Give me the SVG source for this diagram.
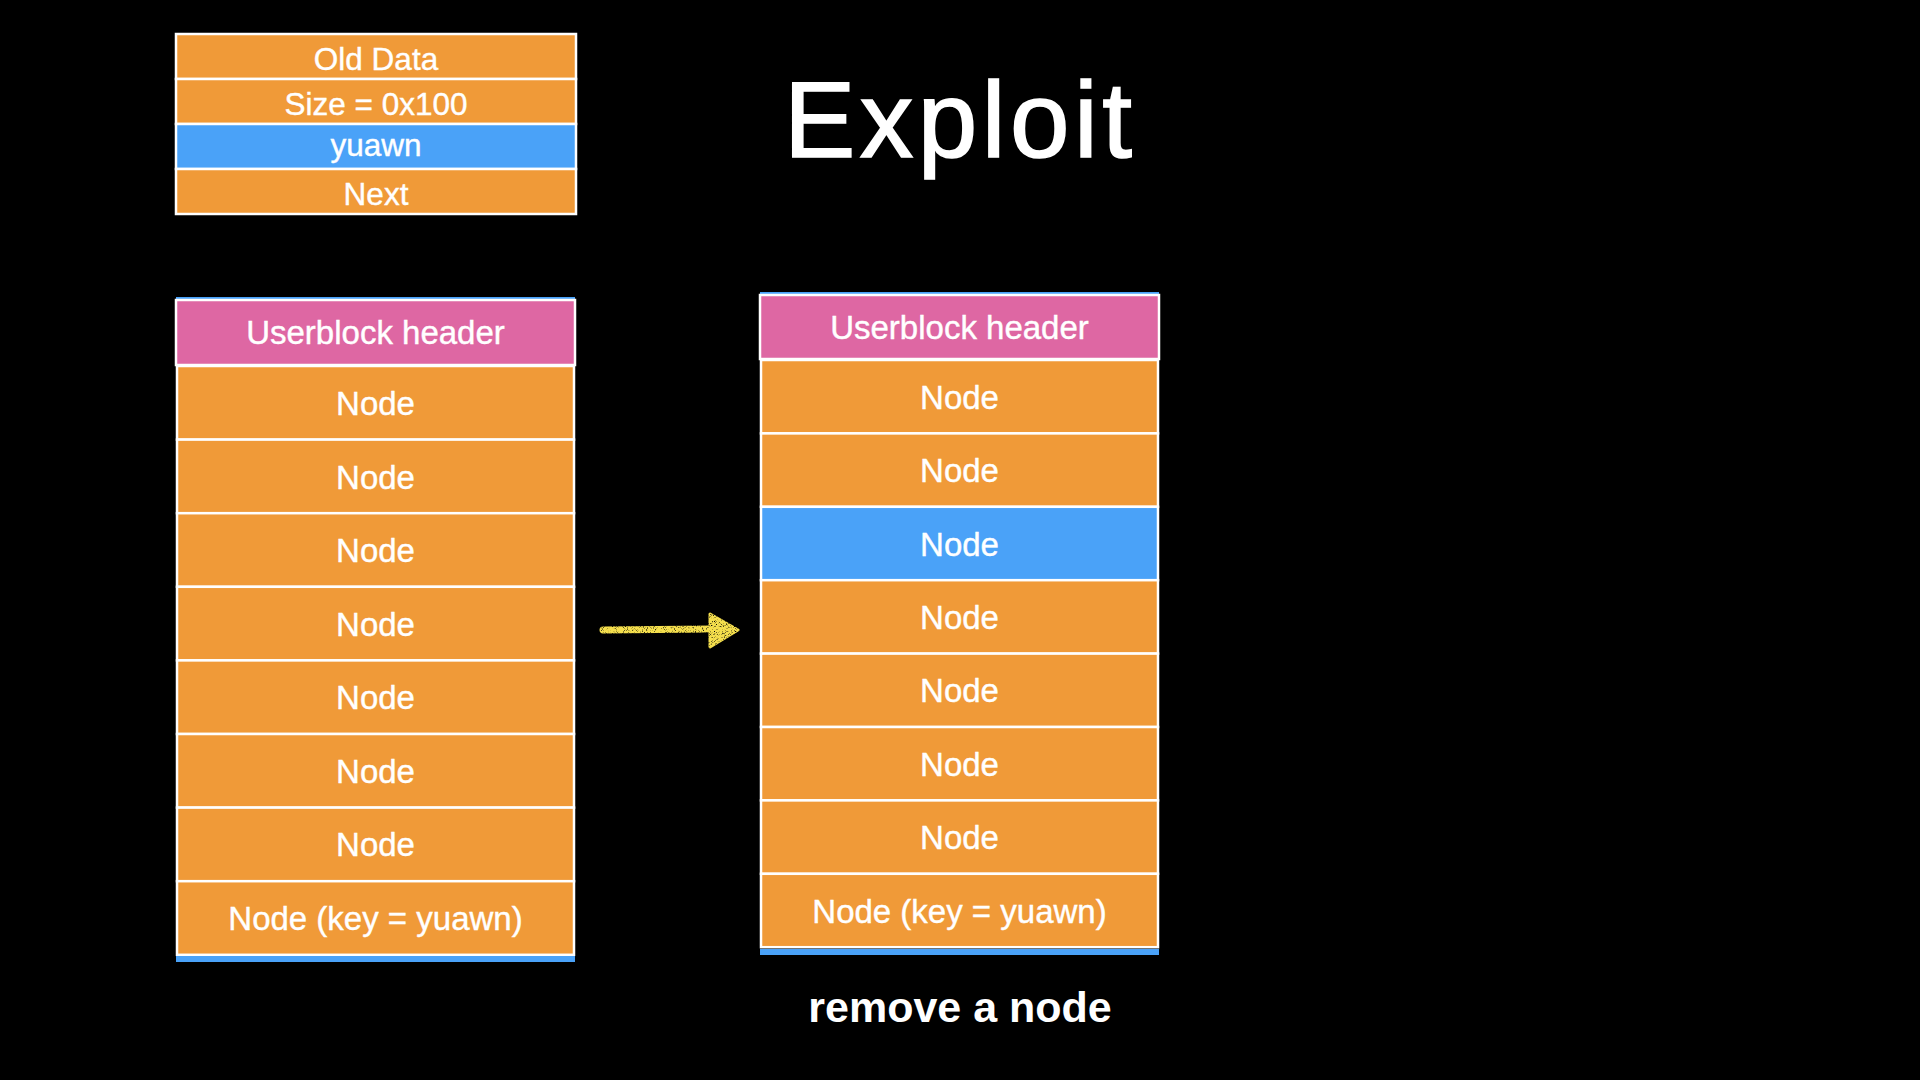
<svg xmlns="http://www.w3.org/2000/svg" width="1920" height="1080" viewBox="0 0 1920 1080">
<style>
.bg{fill:#000}
.o{fill:#F09A38;stroke:#fff;stroke-width:2.5}
.b{fill:#4AA2F8;stroke:#fff;stroke-width:2.5}
.p{fill:#DE67A3;stroke:#fff;stroke-width:2.5}
.bar{fill:#4AA2F8}
.t{font-family:"Liberation Sans",Arial,sans-serif;fill:#fff;text-anchor:middle;stroke:#fff;stroke-width:0.4}
.n{font-size:33px}
.s{font-size:31.5px}
</style>
<defs>
<filter id="chalk" x="-10%" y="-50%" width="120%" height="200%">
<feTurbulence type="fractalNoise" baseFrequency="0.9" numOctaves="2" seed="3" result="noise"/>
<feColorMatrix in="noise" type="matrix" values="0 0 0 0 0  0 0 0 0 0  0 0 0 0 0  0 0 0 -3.5 2.9" result="mask"/>
<feComposite in="SourceGraphic" in2="mask" operator="in"/>
</filter>
</defs>
<rect class="bg" x="0" y="0" width="1920" height="1080"/>

<g id="title">
<text class="t" x="958" y="157" font-size="107" textLength="348" lengthAdjust="spacing" style="stroke-width:1.6">Exploit</text>
</g>

<g id="old-chunk">
<rect class="o" x="176" y="34" width="400" height="45"/>
<text class="t s" x="376" y="69.5">Old Data</text>
<rect class="o" x="176" y="79" width="400" height="45"/>
<text class="t s" x="376" y="114.5">Size = 0x100</text>
<rect class="b" x="176" y="124" width="400" height="45"/>
<text class="t s" x="376" y="156">yuawn</text>
<rect class="o" x="176" y="169" width="400" height="45"/>
<text class="t s" x="376" y="204.5">Next</text>
</g>

<g id="left-block">
<rect class="bar" x="176" y="297" width="399" height="3"/>
<rect class="p" x="176" y="300" width="399" height="65"/>
<text class="t n" x="375.5" y="344">Userblock header</text>
<rect class="o" x="177" y="366" width="397" height="73.6"/>
<text class="t n" x="375.5" y="415">Node</text>
<rect class="o" x="177" y="439.6" width="397" height="73.6"/>
<text class="t n" x="375.5" y="489">Node</text>
<rect class="o" x="177" y="513.2" width="397" height="73.6"/>
<text class="t n" x="375.5" y="562">Node</text>
<rect class="o" x="177" y="586.8" width="397" height="73.6"/>
<text class="t n" x="375.5" y="636">Node</text>
<rect class="o" x="177" y="660.4" width="397" height="73.6"/>
<text class="t n" x="375.5" y="709">Node</text>
<rect class="o" x="177" y="734" width="397" height="73.6"/>
<text class="t n" x="375.5" y="783">Node</text>
<rect class="o" x="177" y="807.6" width="397" height="73.6"/>
<text class="t n" x="375.5" y="856">Node</text>
<rect class="o" x="177" y="881.2" width="397" height="73.6"/>
<text class="t n" x="375.5" y="930">Node (key = yuawn)</text>
<rect class="bar" x="176" y="956" width="399" height="6"/>
</g>

<g id="right-block">
<rect class="bar" x="760" y="292" width="399" height="3"/>
<rect class="p" x="760" y="295" width="399" height="64"/>
<text class="t n" x="959.5" y="339">Userblock header</text>
<rect class="o" x="761" y="360" width="397" height="73.4"/>
<text class="t n" x="959.5" y="409">Node</text>
<rect class="o" x="761" y="433.4" width="397" height="73.4"/>
<text class="t n" x="959.5" y="482">Node</text>
<rect class="b" x="761" y="506.8" width="397" height="73.4"/>
<text class="t n" x="959.5" y="556">Node</text>
<rect class="o" x="761" y="580.2" width="397" height="73.4"/>
<text class="t n" x="959.5" y="629">Node</text>
<rect class="o" x="761" y="653.6" width="397" height="73.4"/>
<text class="t n" x="959.5" y="702">Node</text>
<rect class="o" x="761" y="727" width="397" height="73.4"/>
<text class="t n" x="959.5" y="776">Node</text>
<rect class="o" x="761" y="800.4" width="397" height="73.4"/>
<text class="t n" x="959.5" y="849">Node</text>
<rect class="o" x="761" y="873.8" width="397" height="73.4"/>
<text class="t n" x="959.5" y="923">Node (key = yuawn)</text>
<rect class="bar" x="760" y="949" width="399" height="6"/>
</g>

<g id="connectors">
<g filter="url(#chalk)">
<path d="M603 630 L712 629" stroke="#F5DF4D" stroke-width="7" fill="none" stroke-linecap="round"/>
<polygon points="710,614 738,630 710,647" fill="#F5DF4D" stroke="#F5DF4D" stroke-width="3" stroke-linejoin="round"/>
</g>
</g>

<g id="caption">
<text class="t" x="960" y="1022" font-size="43" font-weight="bold" style="stroke-width:0">remove a node</text>
</g>
</svg>
